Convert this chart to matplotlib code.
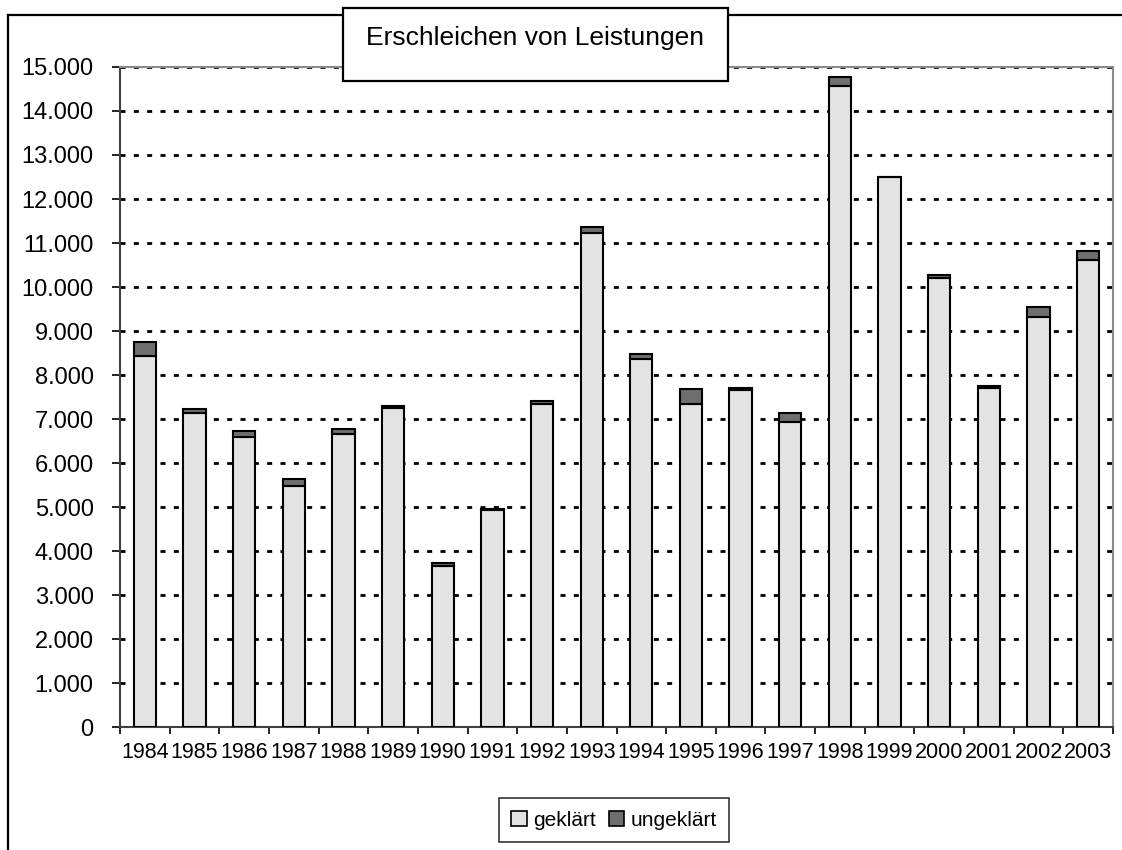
import matplotlib
matplotlib.use("Agg")
import matplotlib.pyplot as plt
from matplotlib.patches import Rectangle, Patch
from matplotlib.lines import Line2D
from matplotlib.ticker import FuncFormatter, MultipleLocator
import numpy as np

plt.rcParams['font.family'] = ['Liberation Sans', 'DejaVu Sans']

years = ['1984', '1985', '1986', '1987', '1988', '1989', '1990', '1991', '1992', '1993',
         '1994', '1995', '1996', '1997', '1998', '1999', '2000', '2001', '2002', '2003']
geklaert = [8440, 7130, 6585, 5485, 6660, 7245, 3660, 4935, 7340, 11220,
            8355, 7350, 7660, 6940, 14575, 12490, 10200, 7700, 9310, 10615]
ungeklaert = [320, 100, 145, 145, 105, 60, 60, 15, 60, 135,
              130, 325, 55, 190, 190, 15, 75, 60, 225, 195]
title = 'Erschleichen von Leistungen'
labels = ['geklärt', 'ungeklärt']

W, H = 1122, 850
fig = plt.figure(figsize=(W / 100, H / 100), dpi=100)

def fx(px):
    return px / W

def fy(py):
    return 1 - py / H

# outer chart frame (cropped on right and bottom)
fig.add_artist(Line2D([fx(8), fx(8)], [fy(15), fy(852)], color='black', lw=1.6))
fig.add_artist(Line2D([fx(8), fx(1124)], [fy(15), fy(15)], color='black', lw=1.6))

ax = fig.add_axes([fx(120), fy(727), fx(1113) - fx(120), fy(67) - fy(727)])

x = np.arange(len(years))
bw = 0.45
ax.bar(x, geklaert, width=bw, color='#e3e3e3', edgecolor='black', linewidth=1.5,
       zorder=3, label=labels[0])
ax.bar(x, ungeklaert, width=bw, bottom=geklaert, color='#6e6e6e', edgecolor='black',
       linewidth=1.5, zorder=3, label=labels[1])

ax.set_xlim(-0.5, len(years) - 0.5)
ax.set_ylim(0, 15000)
ax.yaxis.set_major_locator(MultipleLocator(1000))
ax.yaxis.set_major_formatter(FuncFormatter(lambda v, p: f"{int(v):,}".replace(',', '.')))
ax.grid(axis='y', color='black', linestyle=(0, (1.8, 3)), linewidth=2, zorder=1)
ax.set_axisbelow(True)

ax.set_xticks(x)
ax.set_xticklabels(years, fontsize=15.5)
ax.set_xticks(np.arange(-0.5, len(years)), minor=True)
ax.tick_params(axis='x', which='major', length=0, pad=11)
ax.tick_params(axis='x', which='minor', length=5, width=1.2, direction='out', color='black')
ax.tick_params(axis='y', length=6, width=1.2, direction='out', color='black',
               labelsize=17, pad=13)

for s in ['left', 'bottom']:
    ax.spines[s].set_color('#404040')
    ax.spines[s].set_linewidth(1.5)
for s in ['right', 'top']:
    ax.spines[s].set_color('#8a8a8a')
    ax.spines[s].set_linewidth(1.5)

# title box
fig.add_artist(Rectangle((fx(343), fy(81)), fx(728) - fx(343), fy(8) - fy(81),
                         transform=fig.transFigure, facecolor='white',
                         edgecolor='black', linewidth=1.6, zorder=10))
fig.text(fx(535.5), fy(45), title, ha='center', va='baseline', fontsize=19, zorder=11)

# legend
handles = [Patch(facecolor='#e3e3e3', edgecolor='black', linewidth=1.2),
           Patch(facecolor='#6e6e6e', edgecolor='black', linewidth=1.2)]
leg = fig.legend(handles, labels, loc='center', bbox_to_anchor=(fx(614), fy(820)),
                 ncol=2, fontsize=15, frameon=True, fancybox=False,
                 edgecolor='black', handlelength=0.75, handleheight=0.75,
                 handletextpad=0.3, columnspacing=0.6, borderpad=0.6,
                 borderaxespad=0)
leg.get_frame().set_linewidth(1.2)

fig.savefig('out.png', dpi=100)
